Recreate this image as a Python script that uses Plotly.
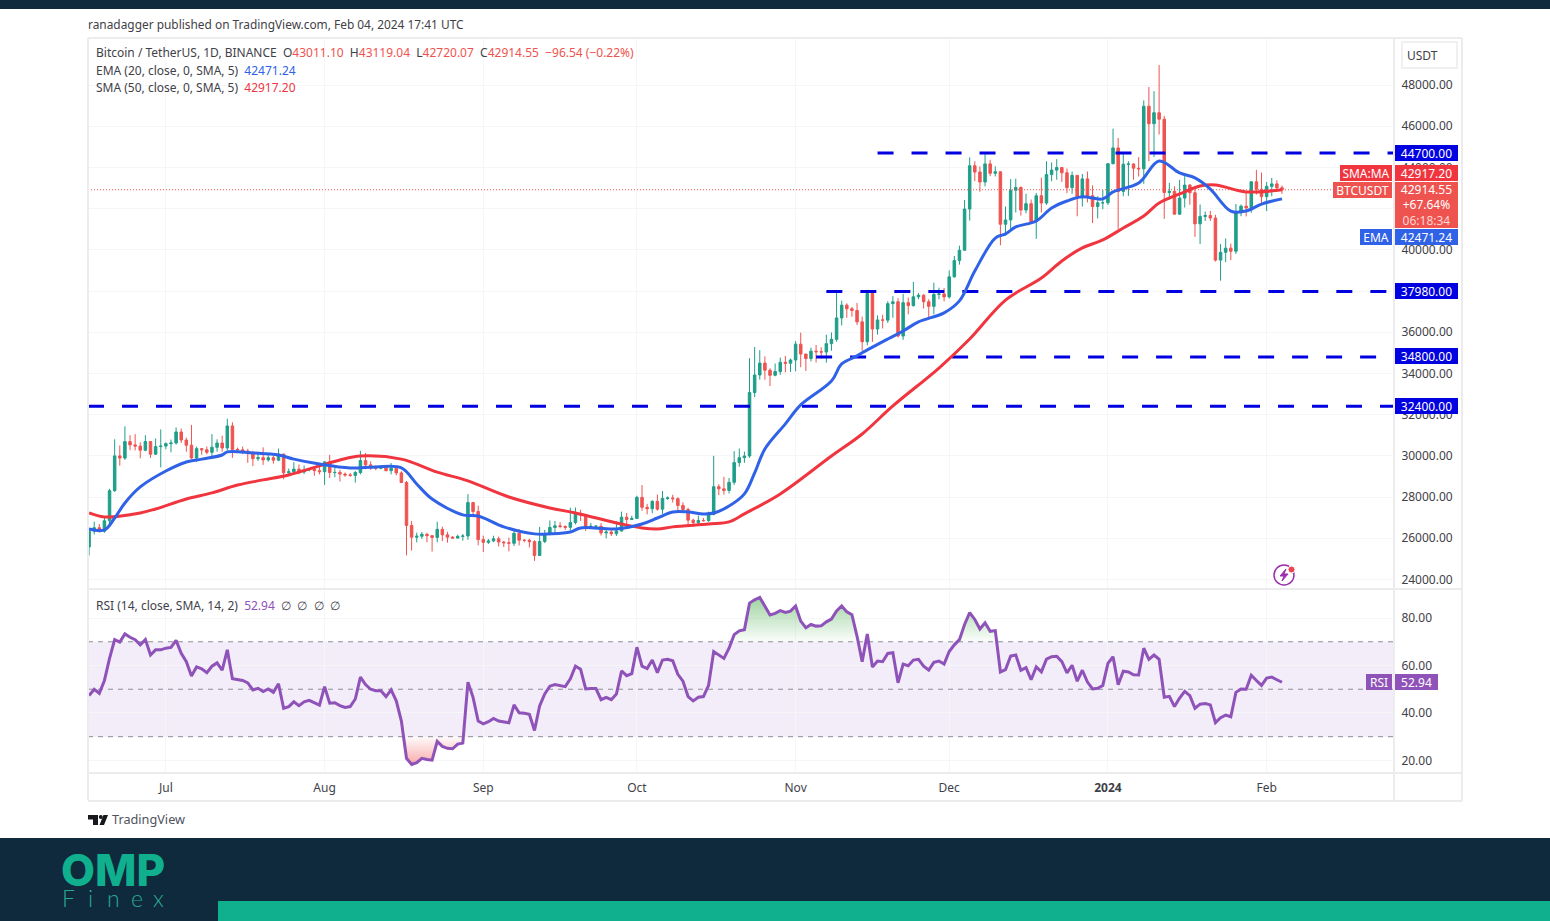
import pandas as pd
import plotly.graph_objects as go

# daily candles, Jun 16 2023 .. Feb 4 2024
first_day = "2023-06-16"

opens = [
    25575, 26340, 26510, 26340, 26845, 28307, 29995, 29890, 30689, 30530, 30470, 30270, 30690, 30078, 30447,
    30472, 30590, 30620, 31156, 30767, 30514, 29895, 30348, 30292, 30171, 30414, 30620, 30380, 31449, 30312, 30289, 30231, 30138, 29859, 29910, 29800, 29908, 29790, 30083, 29176, 29228, 29354, 29213, 29316, 29357, 29279,
    29230, 29705, 29186, 29193, 29114, 29072, 29048, 29189, 29767, 29560, 29424, 29397, 29416, 29280, 29400, 29170, 28701, 26621, 26049, 26096, 26190, 26124, 26040, 26431, 26163, 26050, 26005, 26089, 26106, 27727, 27297,
    25931, 25800, 25868, 25969, 25812, 25779, 25753, 26240, 25905, 25895, 25832, 25162, 25840, 26223, 26522, 26600, 26568, 26527, 26760, 27211, 27132, 26568, 26580, 26580, 26256, 26298, 26217, 26352, 27021, 26906,
    26962, 27983, 27500, 27429, 27790, 27410, 27931, 27955, 27917, 27590, 27391, 26875, 26759, 26862, 26852, 27154, 28500, 28395, 28320, 28713, 29670, 29909, 29992, 33069, 33922, 34500, 34156, 33909, 34089, 34538, 34491,
    34650, 35421, 34941, 34720, 35080, 35049, 35037, 35443, 35655, 36693, 37313, 37138, 37054, 36502, 35537, 37880, 36154, 36596, 36585, 37387, 37476, 35813, 37432, 37289, 37720, 37796, 37479, 37254, 37831, 37858,
    37713, 38688, 39476, 39978, 41980, 44080, 43773, 43292, 44170, 43713, 43789, 41243, 41450, 42890, 43023, 41930, 42240, 41365, 42623, 42271, 43650, 43869, 43997, 43739, 43016, 43613, 42520, 43442, 42627, 42099, 42283,
    42284, 44180, 44945, 42836, 44152, 44163, 43960, 43930, 46970, 46120, 46654, 46339, 42780, 42840, 41730, 42510, 43140, 42770, 41260, 41618, 41665, 41545, 39500, 39880, 40080, 39930, 41800, 42120, 42030, 43300, 42940,
    42580, 43080, 43200, 43011.10,
]
highs = [
    26500, 26800, 26690, 27050, 28400, 30800, 30500, 31430, 31000, 31050, 30650, 31000, 30700, 30840, 31280,
    30650, 30790, 31380, 31325, 30880, 31500, 30445, 30380, 30450, 31050, 30800, 30980, 31800, 31630, 30400, 30450, 30340, 30240, 30190, 30410, 30050, 29990, 30350, 30100, 29380, 29690, 29580, 29530, 29400, 29450, 29530,
    29750, 30047, 29430, 29320, 29190, 29170, 29260, 30240, 30140, 29730, 29540, 29470, 29470, 29650, 29450, 29250, 28780, 26835, 26270, 26300, 26260, 26130, 26800, 26560, 26310, 26100, 26170, 26200, 28140, 27760, 27580,
    26125, 25960, 26120, 26080, 25870, 26030, 26430, 26440, 25950, 25980, 25900, 26550, 26400, 26860, 26840, 26780, 26620, 27480, 27490, 27380, 27160, 26740, 26640, 26730, 26430, 26390, 26820, 27290, 27220, 27090,
    28060, 28580, 27670, 27840, 28120, 28290, 28030, 28110, 27990, 27740, 27480, 26950, 27100, 26980, 27290, 30000, 28620, 28980, 28920, 30230, 30350, 30200, 34740, 35280, 35130, 34830, 34250, 34480, 34770, 34850, 34720,
    35570, 35980, 34940, 35250, 35380, 35270, 35880, 35990, 37972, 37530, 37400, 37230, 37420, 36760, 37980, 37970, 36820, 36845, 37500, 37750, 37650, 37860, 37680, 38440, 37900, 37840, 37600, 38400, 38160, 38150,
    38999, 39700, 40200, 42420, 44490, 44300, 44050, 44700, 44370, 44050, 43790, 42100, 43430, 43450, 43080, 42720, 42440, 42760, 43500, 44300, 44240, 44400, 43820, 43950, 43800, 43600, 43680, 43800, 43130, 42600, 42900,
    44190, 45880, 45430, 44720, 44300, 44200, 44500, 47250, 47900, 47700, 48970, 46500, 43250, 43080, 43400, 43580, 43200, 42930, 42200, 41860, 41890, 41700, 40280, 40550, 40300, 42220, 42200, 42830, 43320, 43880, 43750,
    43290, 43490, 43380, 43119.04,
]
lows = [
    25160, 26180, 26280, 26260, 26660, 28250, 29520, 29800, 30270, 30260, 29880, 30220, 29900, 30050, 29440,
    30320, 30170, 30550, 30620, 30200, 29850, 29700, 30050, 30070, 29950, 30200, 30200, 30250, 29900, 30250, 30080, 29660, 29500, 29750, 29560, 29720, 29620, 29740, 28860, 29060, 29100, 29100, 29120, 29250, 29030, 29100,
    28585, 28920, 28960, 28750, 28980, 28980, 28700, 29100, 29350, 29320, 29300, 29350, 29240, 29100, 29050, 28700, 25166, 25400, 25800, 25970, 25800, 25350, 25800, 25860, 25780, 25980, 25990, 25880, 25920, 27020, 25655,
    25333, 25720, 25810, 25600, 25570, 25360, 25620, 25650, 25800, 25550, 24900, 25130, 25760, 26130, 26220, 26480, 26400, 26380, 26670, 26840, 26350, 26470, 26520, 26130, 25990, 26110, 26110, 26320, 26670, 26890,
    26950, 27330, 27160, 27210, 27340, 27180, 27860, 27730, 27260, 27300, 26540, 26560, 26690, 26810, 26800, 27110, 28090, 28120, 28170, 28590, 29470, 29660, 29900, 32850, 33700, 33690, 33390, 33860, 33930, 34050, 34070,
    34100, 34300, 34120, 34580, 34530, 34720, 34520, 35100, 35540, 36330, 36700, 36750, 36340, 35100, 35360, 35530, 35880, 36180, 36450, 36700, 35750, 35630, 36870, 37250, 37600, 37150, 36740, 36870, 37600, 37500,
    37630, 38650, 39280, 39980, 41420, 43335, 42820, 43080, 43580, 43560, 40220, 40680, 40970, 41810, 41660, 41770, 41250, 40530, 41810, 42180, 43330, 43400, 43300, 42750, 42720, 41630, 42100, 42300, 41300, 41520, 41970,
    42180, 44150, 41000, 42600, 42620, 43400, 43560, 43200, 44300, 44500, 45600, 41500, 42440, 41720, 41700, 42050, 42190, 40630, 40280, 41400, 41400, 39430, 38500, 39400, 39500, 39800, 41630, 41620, 41800, 42680, 42270,
    41880, 42600, 42880, 42720.07,
]
closes = [
    26340, 26510, 26340, 26845, 28307, 29995, 29890, 30689, 30530, 30470, 30270, 30690, 30078, 30447, 30472,
    30590, 30620, 31156, 30767, 30514, 29895, 30348, 30292, 30171, 30414, 30620, 30380, 31449, 30312, 30289, 30231, 30138, 29859, 29910, 29800, 29908, 29790, 30083, 29176, 29228, 29354, 29213, 29316, 29357, 29279, 29230,
    29705, 29186, 29193, 29114, 29072, 29048, 29189, 29767, 29560, 29424, 29397, 29416, 29280, 29400, 29170, 28701, 26621, 26049, 26096, 26190, 26124, 26040, 26431, 26163, 26050, 26005, 26089, 26106, 27727, 27297, 25931,
    25800, 25868, 25969, 25812, 25779, 25753, 26240, 25905, 25895, 25832, 25162, 25840, 26223, 26522, 26600, 26568, 26527, 26760, 27211, 27132, 26568, 26580, 26580, 26256, 26298, 26217, 26352, 27021, 26906, 26962,
    27983, 27500, 27429, 27790, 27410, 27931, 27955, 27917, 27590, 27391, 26875, 26759, 26862, 26852, 27154, 28500, 28395, 28320, 28713, 29670, 29909, 29992, 33069, 33922, 34500, 34156, 33909, 34089, 34538, 34491, 34650,
    35421, 34941, 34720, 35080, 35049, 35037, 35443, 35655, 36693, 37313, 37138, 37054, 36502, 35537, 37880, 36154, 36596, 36585, 37387, 37476, 35813, 37432, 37289, 37720, 37796, 37479, 37254, 37831, 37858, 37713,
    38688, 39476, 39978, 41980, 44080, 43773, 43292, 44170, 43713, 43789, 41243, 41450, 42890, 43023, 41930, 42240, 41365, 42623, 42271, 43650, 43869, 43997, 43739, 43016, 43613, 42520, 43442, 42627, 42099, 42283, 42284,
    44180, 44945, 42836, 44152, 44163, 43960, 43930, 46970, 46120, 46654, 46339, 42780, 42840, 41730, 42510, 43140, 42770, 41260, 41618, 41665, 41545, 39500, 39880, 40080, 39930, 41800, 42120, 42030, 43300, 42940, 42580,
    43080, 43200, 43011, 42914.55,
]

ema_dates = [
    "2023-06-16", "2023-06-19", "2023-06-21", "2023-06-23", "2023-06-26", "2023-07-01", "2023-07-05", "2023-07-08", "2023-07-12", "2023-07-13",
    "2023-07-18", "2023-07-23", "2023-07-26", "2023-07-31", "2023-08-06", "2023-08-11", "2023-08-16", "2023-08-19", "2023-08-22", "2023-08-28",
    "2023-08-31", "2023-09-05", "2023-09-11", "2023-09-14", "2023-09-18", "2023-09-20", "2023-09-27", "2023-10-02", "2023-10-05", "2023-10-08",
    "2023-10-11", "2023-10-14", "2023-10-16", "2023-10-19", "2023-10-22", "2023-10-24", "2023-10-26", "2023-10-30", "2023-11-02", "2023-11-08",
    "2023-11-10", "2023-11-13", "2023-11-14", "2023-11-19", "2023-11-22", "2023-11-25", "2023-11-30", "2023-12-03", "2023-12-06", "2023-12-10",
    "2023-12-12", "2023-12-14", "2023-12-18", "2023-12-21", "2023-12-24", "2023-12-27", "2023-12-31", "2024-01-02", "2024-01-07", "2024-01-11",
    "2024-01-15", "2024-01-18", "2024-01-21", "2024-01-25", "2024-01-28", "2024-01-31", "2024-02-04",
]
ema_values = [
    26450, 26400, 26980, 27710, 28490, 29260, 29700, 29840, 30040, 30190,
    30140, 30040, 29840, 29600, 29410, 29460, 29410, 28630, 27900, 27130,
    27080, 26550, 26210, 26210, 26300, 26500, 26450, 26690, 26980, 27270,
    27270, 27180, 27220, 27560, 28150, 29170, 30330, 31550, 32470, 33630,
    34460, 34850, 35000, 35670, 36060, 36500, 36940, 37520, 38970, 40570,
    40770, 41110, 41400, 42030, 42370, 42570, 42470, 42810, 43240, 44310,
    43730, 43490, 42950, 41880, 41880, 42220, 42471.24,
]
sma_dates = [
    "2023-06-16", "2023-06-19", "2023-06-26", "2023-06-29", "2023-07-05", "2023-07-10", "2023-07-15", "2023-07-20", "2023-07-25", "2023-07-31",
    "2023-08-04", "2023-08-08", "2023-08-16", "2023-08-23", "2023-08-29", "2023-09-06", "2023-09-14", "2023-09-19", "2023-09-28", "2023-10-02",
    "2023-10-05", "2023-10-08", "2023-10-15", "2023-10-19", "2023-10-22", "2023-10-29", "2023-11-08", "2023-11-14", "2023-11-20", "2023-11-29",
    "2023-12-05", "2023-12-12", "2023-12-19", "2023-12-23", "2023-12-27", "2023-12-31", "2024-01-04", "2024-01-08", "2024-01-11", "2024-01-15",
    "2024-01-19", "2024-01-22", "2024-01-28", "2024-02-04",
]
sma_values = [
    27225, 27030, 27225, 27420, 27900, 28200, 28580, 28830, 29070, 29510,
    29800, 29990, 29840, 29210, 28780, 28000, 27470, 27225, 26690, 26500,
    26450, 26550, 26690, 26790, 27180, 28150, 29990, 31060, 32420, 34260,
    35670, 37560, 38630, 39460, 40090, 40480, 41060, 41640, 42270, 42710,
    43100, 43150, 42810, 42917.20,
]

rsi_values = [
    47.3, 50.0, 48.3, 53.7, 63.0, 70.9, 69.9, 73.3, 71.9, 70.9, 68.7, 70.9, 64.4, 66.6, 66.6,
    67.3, 67.6, 70.6, 65.1, 61.6, 55.6, 59.4, 58.6, 57.0, 59.7, 61.1, 58.0, 66.6, 54.4, 54.1, 53.7, 52.7, 49.7, 50.4, 49.0, 50.1, 48.7, 52.3, 42.0, 42.7, 44.7, 43.1, 44.7, 45.3, 44.3, 43.3,
    51.1, 44.1, 44.3, 43.1, 42.3, 42.7, 45.9, 55.1, 52.0, 50.0, 49.4, 49.4, 46.9, 49.7, 45.1, 36.6, 20.9, 18.3, 19.1, 20.9, 20.4, 20.1, 28.0, 25.9, 25.1, 24.9, 26.9, 27.3, 53.0, 46.6, 36.6,
    35.4, 36.3, 37.7, 36.6, 36.1, 35.9, 43.4, 40.1, 39.9, 39.4, 32.6, 43.0, 48.0, 51.3, 52.0, 51.4, 51.1, 54.4, 59.7, 58.4, 50.1, 50.3, 50.3, 45.6, 46.6, 45.6, 48.0, 57.7, 55.7, 56.6,
    67.7, 59.7, 58.7, 62.3, 57.0, 62.3, 62.6, 62.0, 56.3, 53.4, 46.9, 45.1, 46.6, 46.9, 51.6, 65.9, 64.4, 63.0, 67.3, 73.0, 74.6, 75.1, 86.3, 87.7, 88.7, 84.9, 81.3, 82.0, 83.1, 82.4, 82.9,
    85.1, 78.7, 75.9, 77.3, 76.6, 76.7, 78.4, 79.6, 83.0, 85.1, 82.6, 81.4, 72.3, 61.6, 73.3, 59.4, 61.9, 61.6, 65.1, 65.4, 52.7, 60.6, 59.9, 62.3, 62.6, 59.7, 58.1, 61.3, 61.9, 60.6,
    65.9, 68.7, 70.9, 77.3, 82.3, 79.4, 75.4, 78.0, 74.4, 74.7, 57.3, 58.3, 64.0, 64.4, 58.0, 59.1, 54.0, 59.4, 57.3, 62.7, 63.7, 63.9, 61.6, 56.9, 60.1, 53.4, 58.0, 53.0, 50.1, 50.4, 51.6,
    60.9, 63.7, 51.9, 57.6, 57.3, 56.1, 56.0, 67.3, 62.6, 64.4, 62.6, 46.6, 47.0, 42.7, 46.3, 49.1, 47.3, 42.0, 43.7, 44.0, 43.4, 35.9, 38.0, 39.1, 38.4, 48.7, 50.1, 50.0, 55.9, 53.7, 51.6,
    54.7, 55.1, 54.0, 52.94,
]

level_prices = [44700, 37980, 34800, 32400]
level_starts = ["2023-11-17", "2023-11-07", "2023-11-05", "2023-06-15 19:00"]

price_ticks = [24000, 26000, 28000, 30000, 32000, 34000, 36000, 38000, 40000, 42000, 44000, 46000, 48000]
# 38000 and 42000 sit fully under the price tags on the original
price_labels = ["24000.00", "26000.00", "28000.00", "30000.00", "32000.00", "34000.00", "36000.00", "",
                "40000.00", "", "44000.00", "46000.00", "48000.00"]
rsi_ticks = [20, 40, 60, 80]
rsi_levels = [30, 50, 70]
month_ticks = ["2023-07-01", "2023-08-01", "2023-09-01", "2023-10-01", "2023-11-01", "2023-12-01", "2024-01-01", "2024-02-01"]
month_labels = ["Jul", "Aug", "Sep", "Oct", "Nov", "Dec", "<b>2024</b>", "Feb"]

last_price = 42914.55
last_sma = 42917.20
last_ema = 42471.24
last_rsi = 52.94

W, H = 1550, 921
x_range = ["2023-06-15 19:00", "2024-02-25 21:00"]
FONT = "Noto Sans"
UP, DOWN = "#1f9e89", "#ef5350"
EMA_COL, SMA_COL = "#2f62e6", "#f0353f"
RSI_COL = "#8f52b8"
LEVEL_COL = "#0000e0"
TXT = "#3f4148"
GRID = "#f6f6f8"
NAVY = "#0f2a3d"
TEAL = "#10b08f"


def px(x):
    return x / W


def py(y):
    return 1 - y / H


days = pd.date_range(first_day, periods=len(closes), freq="D")

fig = go.Figure()

fig.add_trace(go.Candlestick(
    x=days, open=opens, high=highs, low=lows, close=closes, xaxis="x", yaxis="y",
    increasing=dict(line=dict(color=UP, width=1), fillcolor=UP),
    decreasing=dict(line=dict(color=DOWN, width=1), fillcolor=DOWN),
    whiskerwidth=0, showlegend=False,
))

# last price line
fig.add_trace(go.Scatter(x=x_range, y=[last_price, last_price], mode="lines",
                         line=dict(color=DOWN, width=1, dash="1px,2px"), xaxis="x", yaxis="y"))
# hand drawn levels
for price, start in zip(level_prices, level_starts):
    fig.add_trace(go.Scatter(x=[start, x_range[1]], y=[price, price], mode="lines",
                             line=dict(color=LEVEL_COL, width=3, dash="16px,18px"), xaxis="x", yaxis="y"))

fig.add_trace(go.Scatter(x=sma_dates, y=sma_values, mode="lines", xaxis="x", yaxis="y",
                         line=dict(color=SMA_COL, width=3, shape="spline", smoothing=1.0)))
fig.add_trace(go.Scatter(x=ema_dates, y=ema_values, mode="lines", xaxis="x", yaxis="y",
                         line=dict(color=EMA_COL, width=3, shape="spline", smoothing=1.0)))

# rsi pane, gradient patches over 70 and under 30
overbought = [max(v, 70) for v in rsi_values]
oversold = [min(v, 30) for v in rsi_values]
fig.add_trace(go.Scatter(x=days, y=[70] * len(days), mode="lines", line=dict(width=0), xaxis="x2", yaxis="y2"))
fig.add_trace(go.Scatter(x=days, y=overbought, mode="lines", line=dict(width=0), fill="tonexty", xaxis="x2", yaxis="y2",
                         fillgradient=dict(type="vertical", start=70, stop=89,
                                           colorscale=[[0, "rgba(76,175,80,0.02)"], [1, "rgba(76,175,80,0.55)"]])))
fig.add_trace(go.Scatter(x=days, y=[30] * len(days), mode="lines", line=dict(width=0), xaxis="x2", yaxis="y2"))
fig.add_trace(go.Scatter(x=days, y=oversold, mode="lines", line=dict(width=0), fill="tonexty", xaxis="x2", yaxis="y2",
                         fillgradient=dict(type="vertical", start=30, stop=18,
                                           colorscale=[[0, "rgba(239,83,80,0.02)"], [1, "rgba(239,83,80,0.5)"]])))
for lvl in rsi_levels:
    fig.add_trace(go.Scatter(x=x_range, y=[lvl, lvl], mode="lines", xaxis="x2", yaxis="y2",
                             line=dict(color="#8d8d98", width=1, dash="5px,5px")))
fig.add_trace(go.Scatter(x=days, y=rsi_values, mode="lines", xaxis="x2", yaxis="y2",
                         line=dict(color=RSI_COL, width=3)))

shapes = [
    dict(type="rect", xref="paper", yref="paper", x0=0, x1=1, y0=py(9), y1=1, fillcolor=NAVY, line_width=0),
    dict(type="rect", xref="paper", yref="paper", x0=0, x1=1, y0=0, y1=py(838), fillcolor=NAVY, line_width=0),
    dict(type="rect", xref="paper", yref="paper", x0=px(218), x1=1, y0=0, y1=py(901), fillcolor=TEAL, line_width=0),
    # rsi band
    dict(type="rect", xref="x2", yref="y2", x0=x_range[0], x1=x_range[1], y0=30, y1=70,
         fillcolor="#f2edf9", line_width=0, layer="below"),
    # usdt button
    dict(type="rect", xref="paper", yref="paper", x0=px(1402), x1=px(1457), y0=py(68), y1=py(42),
         fillcolor="white", line=dict(color="#ececef", width=1.5)),
    # lightning badge
    dict(type="circle", xref="paper", yref="paper", x0=px(1274), x1=px(1294), y0=py(585), y1=py(565),
         fillcolor="white", line=dict(color="#9b2fae", width=1.5)),
    dict(type="path", xref="paper", yref="paper", line=dict(color="#9b2fae", width=1), fillcolor="#9b2fae",
         path=" ".join(f"{c}{px(a):.5f},{py(b):.5f}" for c, a, b in [
             ("M", 1286, 569), ("L", 1280, 576), ("L", 1284, 576), ("L", 1282, 581), ("L", 1288, 574), ("L", 1284, 574)]) + " Z"),
    dict(type="circle", xref="paper", yref="paper", x0=px(1288), x1=px(1295), y0=py(573), y1=py(566),
         fillcolor="#ef4350", line=dict(color="white", width=1)),
    # tradingview mark
    dict(type="path", xref="paper", yref="paper", line_width=0, fillcolor="#17181c",
         path=" ".join(f"{c}{px(a):.5f},{py(b):.5f}" for c, a, b in [
             ("M", 88, 815), ("L", 98, 815), ("L", 98, 825), ("L", 93, 825), ("L", 93, 819.5), ("L", 88, 819.5)]) + " Z"),
    dict(type="path", xref="paper", yref="paper", line_width=0, fillcolor="#17181c",
         path=" ".join(f"{c}{px(a):.5f},{py(b):.5f}" for c, a, b in [
             ("M", 103.5, 815), ("L", 108, 815), ("L", 104, 825), ("L", 99.5, 825)]) + " Z"),
    dict(type="circle", xref="paper", yref="paper", x0=px(98.8), x1=px(102.8), y0=py(819), y1=py(815),
         fillcolor="#17181c", line_width=0),
]
# pane frame
for x0, y0, x1, y1 in [(88, 38, 1462, 38), (88, 38, 88, 800), (88, 589, 1462, 589), (88, 773, 1462, 773),
                       (88, 801, 1462, 801), (1394, 38, 1394, 801), (1462, 38, 1462, 801)]:
    shapes.append(dict(type="line", xref="paper", yref="paper", x0=px(x0), x1=px(x1), y0=py(y0), y1=py(y1),
                       line=dict(color="#ececee", width=2)))

annotations = []


def note(text, x, y, size=12, color=TXT, family=FONT, weight="normal"):
    annotations.append(dict(text=text, xref="paper", yref="paper", x=px(x - 2), y=py(y), xanchor="left", yanchor="middle",
                            showarrow=False, font=dict(family=family, size=size, color=color, weight=weight)))


def span(text, color):
    return f'<span style="color:{color}">{text}</span>'


def tag(text, y, fill, x0, width, yref="paper", size=12, height=16):
    if yref == "paper":
        y = py(y)
    annotations.append(dict(text=text, xref="paper", yref=yref, x=px(x0), y=y, xanchor="left", yanchor="middle",
                            showarrow=False, width=width, height=height, bgcolor=fill, borderpad=0, borderwidth=0,
                            align="center", valign="middle", font=dict(family=FONT, size=size, color="white")))


note("ranadagger published on TradingView.com, Feb 04, 2024 17:41 UTC", 88, 24, size=11.9)
note("Bitcoin / TetherUS, 1D, BINANCE  O" + span("43011.10", DOWN) + "  H" + span("43119.04", DOWN) + "  L"
     + span("42720.07", DOWN) + "  C" + span("42914.55", DOWN) + "  " + span("−96.54 (−0.22%)", DOWN), 96, 52)
note("EMA (20, close, 0, SMA, 5)  " + span("42471.24", EMA_COL), 96, 70)
note("SMA (50, close, 0, SMA, 5)  " + span("42917.20", SMA_COL), 96, 87)
note("RSI (14, close, SMA, 14, 2)  " + span("52.94", RSI_COL) + "  " + "  ".join(["∅"] * 4), 96, 605)
note("USDT", 1407, 55)
note("TradingView", 112, 819, size=12.7, color="#50535e")
note("OMP", 61, 870, size=44, color=TEAL, family="Inter", weight=800)
for letter, letter_x in zip("Finex", [62, 88, 107, 131, 153]):
    note(letter, letter_x, 898, size=23, color="#2aa893", family="Lato", weight=300)

for price, label_y in zip(level_prices, [153, 291, 356, 406]):
    tag(f"{price:.2f}", label_y, LEVEL_COL, 1395, 63)
tag(f"{last_sma:.2f}", 173, SMA_COL, 1395, 63)
tag("SMA:MA", 173, SMA_COL, 1340, 52)
tag(f"{last_price:.2f}<br>+67.64%<br>" + span("06:18:34", "#ffd5d3"), 205, DOWN, 1395, 63, height=46)
tag("BTCUSDT", 190.5, DOWN, 1333, 59)
tag(f"{last_ema:.2f}", 237, EMA_COL, 1395, 63)
tag("EMA", 237, EMA_COL, 1360, 32)
tag(f"{last_rsi:.2f}", last_rsi, RSI_COL, 1395, 43, yref="y2")
tag("RSI", last_rsi, RSI_COL, 1366, 26, yref="y2")

x_common = dict(type="date", range=x_range, showline=False, zeroline=False, tickvals=month_ticks,
                showgrid=True, gridcolor=GRID, gridwidth=1)
y_common = dict(side="right", anchor="x", showline=False, zeroline=False, showgrid=True, gridcolor=GRID, gridwidth=1,
                ticks="outside", ticklen=4, tickcolor="rgba(0,0,0,0)", tickformat=".2f",
                tickfont=dict(family=FONT, size=12, color=TXT))

fig.update_layout(
    width=W, height=H, margin=dict(l=0, r=0, t=0, b=0), autosize=False,
    paper_bgcolor="white", plot_bgcolor="white", showlegend=False, hovermode=False,
    xaxis=dict(domain=[px(88), px(1394)], anchor="y", showticklabels=False, rangeslider=dict(visible=False), **x_common),
    xaxis2=dict(domain=[px(88), px(1394)], anchor="y2", matches="x", ticktext=month_labels, ticks="outside", ticklen=4,
                tickcolor="rgba(0,0,0,0)", tickfont=dict(family=FONT, size=12, color=TXT), **x_common),
    yaxis=dict(domain=[py(589), py(39)], range=[23534, 50233], tickvals=price_ticks, ticktext=price_labels, **y_common),
    yaxis2=dict(domain=[py(773), py(591)], range=[14.7, 91.4], tickvals=rsi_ticks,
                **{**y_common, "anchor": "x2"}),
    shapes=shapes, annotations=annotations,
)

fig.write_html("out.html", post_script="document.body.style.margin='0';", config=dict(displayModeBar=False))
